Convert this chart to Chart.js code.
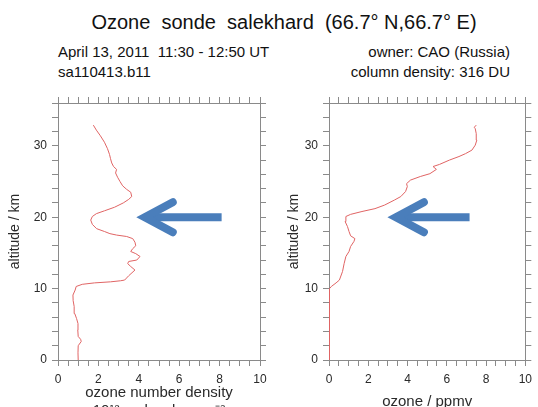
<!DOCTYPE html>
<html><head><meta charset="utf-8">
<script src="https://cdn.jsdelivr.net/npm/chart.js@4/dist/chart.umd.min.js"></script>
<style>
html,body{margin:0;padding:0;background:#fff;width:538px;height:407px;overflow:hidden;position:relative;font-family:"Liberation Sans",Arial,sans-serif;color:#111}
.t{position:absolute;white-space:pre;}
#title{left:0;width:568px;top:10px;text-align:center;font-size:20px;line-height:24px}
.sub{font-size:15px;line-height:18px}
canvas{position:absolute}
</style></head>
<body>
<div class="t" id="title">Ozone  sonde  salekhard  (66.7° N,66.7° E)</div>
<div class="t sub" style="left:58px;top:43px">April 13, 2011  11:30 - 12:50 UT</div>
<div class="t sub" style="left:58px;top:63px">sa110413.b11</div>
<div class="t sub" style="right:28px;top:43px;text-align:right">owner: CAO (Russia)</div>
<div class="t sub" style="right:28px;top:63px;text-align:right">column density: 316 DU</div>
<canvas id="c1" width="280" height="340" style="left:0;top:90px"></canvas>
<canvas id="c2" width="258" height="340" style="left:280px;top:90px"></canvas>
<script>
// ---- data ----
const densityAlt = [0,1.0,2.0,2.6,2.9,3.3,4.2,5.1,5.8,6.5,7.5,8.3,9.1,9.8,10.3,10.6,10.8,10.95,11.1,11.2,11.8,12.6,13.1,13.5,13.8,14.0,14.5,14.9,15.2,15.6,16.0,16.5,17.0,17.3,17.5,17.7,18.0,18.4,19.0,19.6,20.1,20.5,20.9,21.4,22.0,22.5,22.9,23.5,23.9,24.4,25.0,25.6,26.2,26.7,27.1,27.6,28.2,28.8,29.6,30.5,31.4,32.2,32.9];
const densityVal = [1.0,0.99,1.0,1.15,1.12,1.0,0.98,0.99,0.92,0.83,0.8,0.75,0.74,0.85,0.9,1.2,1.8,2.6,3.1,3.3,3.5,3.81,3.6,3.45,3.5,3.9,4.06,3.85,3.6,3.7,3.85,3.81,3.7,3.4,2.9,2.57,2.3,1.91,1.7,1.62,1.7,1.9,2.3,2.8,3.23,3.5,3.65,3.6,3.4,3.2,3.07,2.95,2.85,2.9,2.75,2.66,2.6,2.55,2.45,2.3,2.1,1.9,1.75];
const ppmvAlt = [0,3,6,9,10,10.3,10.8,11.2,12.4,13.5,14.5,15.2,15.9,16.6,17.0,17.4,18.0,18.7,19.4,20.1,20.4,20.8,21.2,21.7,22.4,22.9,23.6,24.3,24.7,25.2,25.7,26.1,26.7,27.1,27.4,28.0,28.5,28.9,29.4,30.1,30.8,31.7,32.4,32.6,32.9];
const ppmvVal = [0,0.02,0.03,0.02,0.03,0.12,0.36,0.53,0.69,0.77,0.86,1.02,1.1,1.27,1.32,1.1,1.02,0.94,0.82,0.86,1.1,1.68,2.34,2.83,3.33,3.66,3.9,3.99,3.95,4.15,4.65,5.14,5.47,5.3,5.63,6.13,6.62,6.95,7.28,7.45,7.53,7.5,7.45,7.4,7.5];
const altRange = [0, 36];
const xRange = [0, 10];
const xLabelEvery = 2, xMinorStep = 0.5;
const yLabelEvery = 10, yMinorStep = 2;
const leftArrow = [3.9, 8.1, 20];   // tip x, tail x, altitude
const rightArrow = [3.0, 7.16, 20];

const AX = '#8a8a8a', TXT = '#2a2a2a', LINE = '#e06464', ARROW = '#4a7ebb';
const FONT = 'Liberation Sans';

const arrowPlugin = {
  id: 'arrowMark',
  afterDatasetsDraw(chart, args, o) {
    const xs = chart.scales.x, ys = chart.scales.y, ctx = chart.ctx;
    const tip = xs.getPixelForValue(o.at[0]) + 8;
    const tail = xs.getPixelForValue(o.at[1]);
    const y = ys.getPixelForValue(o.at[2]);
    ctx.save();
    ctx.strokeStyle = ARROW; ctx.lineWidth = 8;
    ctx.lineCap = 'butt';
    ctx.beginPath(); ctx.moveTo(tip + 4, y); ctx.lineTo(tail, y); ctx.stroke();
    ctx.lineCap = 'round'; ctx.lineJoin = 'miter'; ctx.miterLimit = 10;
    ctx.beginPath(); ctx.moveTo(tip + 28, y - 15); ctx.lineTo(tip, y); ctx.lineTo(tip + 28, y + 15); ctx.stroke();
    ctx.restore();
  }
};

function axisCommon(extra) {
  return Object.assign({
    type: 'linear',
    border: {display: true, color: AX, width: 1},
    grid: {drawOnChartArea: false, drawTicks: true, tickLength: 6, color: AX, tickColor: AX},
  }, extra);
}

function makeChart(id, alt, vals, xTitle, g, arrow) {
  const pts = alt.map((a, i) => ({x: vals[i], y: a}));
  const xt = {stepSize: xMinorStep, autoSkip: false, maxRotation: 0, padding: 6, color: TXT, font: {family: FONT, size: 12},
              callback: v => (Math.abs(v % xLabelEvery) < 1e-9 ? String(v) : '')};
  const yt = {stepSize: yMinorStep, autoSkip: false, padding: 5, color: TXT, font: {family: FONT, size: 12},
              callback: v => (v % yLabelEvery === 0 ? String(v) : '')};
  return new Chart(document.getElementById(id), {
    type: 'scatter',
    data: {datasets: [{data: pts, showLine: true, pointRadius: 0, borderColor: LINE, borderWidth: 1, tension: 0}]},
    options: {
      responsive: false, animation: false, devicePixelRatio: 1,
      layout: {padding: 0},
      plugins: {legend: {display: false}, tooltip: {enabled: false}, arrowMark: {at: arrow}},
      scales: {
        x: axisCommon({position: 'bottom', min: xRange[0], max: xRange[1], ticks: xt,
          title: {display: true, text: xTitle, color: TXT, font: {family: FONT, size: 15, lineHeight: 1.2}, padding: {top: 0, bottom: g.xpb}},
          afterFit: s => { s.height = g.bottom; }}),
        x2: axisCommon({position: 'top', min: xRange[0], max: xRange[1], ticks: Object.assign({}, xt, {callback: () => ''}),
          afterFit: s => { s.height = g.top; }}),
        y: axisCommon({position: 'left', min: altRange[0], max: altRange[1], ticks: yt,
          title: {display: true, text: 'altitude / km', color: TXT, font: {family: FONT, size: 14, lineHeight: 1.2}, padding: {top: g.ypt, bottom: 0}},
          afterFit: s => { s.width = g.left; }}),
        y2: axisCommon({position: 'right', min: altRange[0], max: altRange[1], ticks: Object.assign({}, yt, {callback: () => ''}),
          afterFit: s => { s.width = g.right; }})
      }
    },
    plugins: [arrowPlugin]
  });
}

makeChart('c1', densityAlt, densityVal, ['ozone number density', '10¹² molecules cm⁻³'],
  {left: 58, right: 20, top: 13, bottom: 70, xpb: 10, ypt: 7}, leftArrow);
makeChart('c2', ppmvAlt, ppmvVal, 'ozone / ppmv',
  {left: 49, right: 6, top: 13, bottom: 70, xpb: 19, ypt: 6}, rightArrow);
</script>
</body></html>
